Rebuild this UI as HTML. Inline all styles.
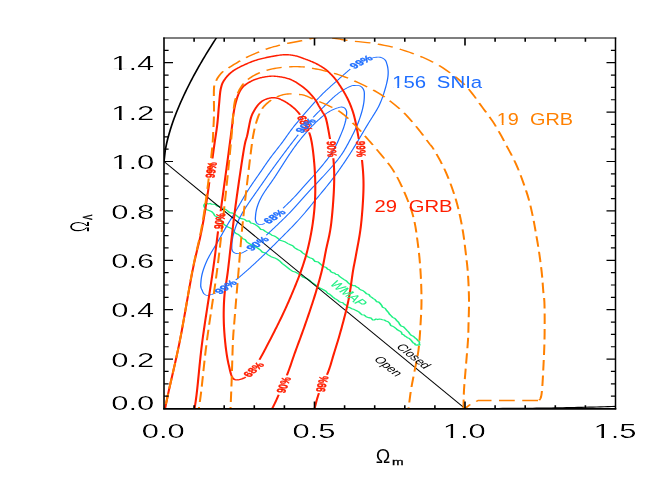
<!DOCTYPE html>
<html><head><meta charset="utf-8"><title>Omega_m - Omega_Lambda confidence contours</title>
<style>
html,body{margin:0;padding:0;background:#fff;}
body{width:664px;height:485px;overflow:hidden;font-family:"Liberation Sans",sans-serif;}
svg{display:block;}
</style></head><body>
<svg width="664" height="485" viewBox="0 0 664 485">
<rect width="100%" height="100%" fill="#fff"/>
<defs>
<filter id="th" x="-5%" y="-20%" width="110%" height="140%"><feOffset in="SourceGraphic" dx="0.4" dy="0" result="o"/><feComposite in="SourceGraphic" in2="o" operator="in"/></filter>
<filter id="th2" x="-5%" y="-20%" width="110%" height="140%"><feOffset in="SourceGraphic" dx="0.35" dy="0" result="o"/><feComposite in="SourceGraphic" in2="o" operator="in"/></filter>
<filter id="tv" x="-20%" y="-5%" width="140%" height="110%"><feOffset in="SourceGraphic" dx="0" dy="0.3" result="o"/><feComposite in="SourceGraphic" in2="o" operator="in"/></filter>
<filter id="gs" x="-20%" y="-20%" width="140%" height="140%"><feOffset in="SourceGraphic" dx="0" dy="0"/></filter>
<clipPath id="cp"><rect x="109.33" y="38.00" width="301.00" height="370.50"/></clipPath>
</defs>
<g transform="scale(1.5 1)">
<g clip-path="url(#cp)" fill="none" stroke-linecap="butt" stroke-linejoin="round">
<path d="M136.55,203.82 L137.48,203.14 L138.74,203.97 L140.05,203.41 L141.08,204.23 L142.20,204.30 L143.48,204.42 L144.60,205.86 L146.15,206.35 L147.36,207.92 L148.89,208.41 L150.32,209.41 L151.70,210.91 L153.14,212.67 L155.14,213.18 L156.79,214.66 L158.30,216.46 L159.86,218.15 L161.64,218.85 L163.21,219.58 L164.43,221.18 L166.19,220.93 L167.19,223.03 L168.78,223.52 L170.18,224.58 L171.52,225.87 L172.74,227.46 L173.85,229.38 L175.56,229.79 L176.84,231.42 L178.27,232.67 L179.85,233.66 L181.22,235.24 L182.88,235.98 L184.19,237.18 L185.38,238.49 L186.59,240.23 L188.40,241.06 L190.29,242.06 L191.97,243.61 L193.60,244.68 L195.18,245.80 L196.52,247.85 L198.31,249.49 L200.38,250.89 L201.96,253.09 L203.57,254.59 L204.90,256.44 L206.55,257.77 L208.50,258.86 L209.96,261.35 L212.20,262.05 L213.89,264.28 L215.57,266.59 L217.52,267.60 L218.60,269.35 L219.87,269.97 L220.59,271.71 L221.66,272.61 L222.81,272.99 L223.82,274.20 L225.37,274.80 L226.51,276.71 L227.95,278.11 L229.43,279.63 L231.00,281.05 L232.15,282.89 L233.17,284.16 L234.35,284.60 L235.27,285.71 L236.66,285.60 L237.74,287.03 L238.94,287.68 L239.75,289.09 L240.78,290.09 L242.12,290.76 L243.26,292.17 L244.38,293.84 L245.95,294.48 L246.72,296.31 L247.85,297.36 L248.88,298.57 L250.08,299.64 L251.00,301.60 L252.55,302.09 L253.52,303.64 L254.38,305.28 L255.09,307.36 L256.81,308.38 L257.84,310.65 L258.97,312.55 L259.77,314.42 L260.76,315.78 L261.76,317.36 L263.34,318.58 L264.53,320.62 L265.76,322.36 L266.44,324.42 L267.34,325.92 L268.90,326.65 L270.10,328.51 L271.36,330.51 L272.51,332.24 L273.21,333.83 L273.86,335.05 L274.81,335.74 L275.82,336.42 L276.52,337.80 L277.40,338.60 L278.08,339.59 L278.55,340.71 L279.19,341.15 L279.59,342.01 L279.58,343.09 L279.50,343.97 L279.92,344.94 L279.04,344.81 L278.93,345.12 L278.65,344.99 L278.22,344.90 L277.62,345.14 L277.26,344.85 L276.72,344.81 L276.59,343.62 L275.53,343.04 L274.77,341.64 L274.14,340.28 L273.46,339.41 L272.93,338.43 L272.10,338.02 L271.36,337.44 L270.66,336.65 L269.80,335.97 L269.09,334.78 L268.01,334.17 L267.56,332.10 L266.34,330.94 L264.92,329.81 L263.86,328.28 L262.82,327.11 L261.71,326.18 L260.46,325.43 L259.76,323.30 L258.73,321.70 L257.32,321.04 L256.22,320.03 L254.97,319.76 L253.96,319.30 L252.91,319.05 L251.82,319.57 L250.65,319.04 L249.58,319.95 L248.45,319.93 L247.49,318.16 L245.85,317.64 L244.04,316.70 L242.68,314.95 L241.22,314.74 L240.25,313.36 L239.21,311.91 L237.77,310.81 L236.21,309.58 L234.56,308.79 L233.23,307.61 L231.80,306.92 L230.80,305.17 L229.52,304.28 L228.57,302.76 L227.26,302.21 L226.13,301.66 L225.22,300.35 L224.23,299.41 L223.09,298.45 L221.96,297.14 L220.87,295.67 L219.79,294.25 L218.42,293.18 L217.34,291.23 L215.63,289.70 L213.62,288.31 L211.76,286.56 L210.16,284.59 L208.43,282.98 L206.76,280.77 L204.69,278.61 L202.12,277.34 L200.20,274.97 L198.44,273.39 L196.83,272.03 L194.93,271.15 L193.17,269.38 L191.51,267.28 L189.83,265.34 L188.23,263.60 L186.83,261.48 L185.19,259.51 L183.10,257.91 L180.74,256.69 L178.74,254.81 L176.96,252.96 L174.87,252.12 L173.41,249.81 L171.71,248.00 L169.86,246.71 L168.13,245.21 L166.38,243.75 L164.68,242.18 L163.50,239.68 L161.65,238.49 L160.31,236.31 L158.94,234.49 L157.35,233.46 L156.22,231.81 L155.26,229.51 L153.55,228.00 L151.53,226.84 L149.78,224.90 L148.09,222.58 L146.88,219.37 L145.19,217.18 L143.26,215.86 L142.23,213.28 L140.92,211.45 L139.34,210.53 L137.87,209.84 L137.04,208.46 L136.17,207.05 L135.93,205.15Z" stroke="#1ef082" stroke-width="1.15" stroke-linejoin="round"/>
<path d="M143.81,292.98 L143.00,293.45 L142.19,293.89 L141.37,294.27 L140.55,294.61 L139.72,294.97 L138.88,295.27 L138.09,295.33 L137.33,295.04 L136.60,294.51 L135.98,293.78 L135.52,292.81 L135.16,291.64 L134.83,290.45 L134.46,289.30 L134.11,288.13 L133.88,286.91 L133.81,285.64 L133.84,284.32 L133.90,283.00 L133.96,281.69 L134.04,280.38 L134.14,279.07 L134.27,277.77 L134.41,276.47 L134.59,275.17 L134.78,273.88 L135.00,272.60 L135.23,271.32 L135.49,270.05 L135.77,268.79 L136.06,267.54 L136.37,266.29 L136.69,265.05 L137.03,263.82 L137.38,262.60 L137.74,261.39 L138.12,260.19 L138.51,258.99 L138.91,257.80 L139.32,256.62 L139.75,255.45 L140.18,254.28 L140.62,253.13 L141.06,251.97 L141.52,250.83 L141.97,249.68 L142.43,248.54 L142.90,247.40 L143.36,246.26 L143.82,245.12 L144.28,243.98 L144.74,242.84 L145.19,241.69 L145.64,240.53 L146.08,239.38 L146.53,238.22 L146.96,237.06 L147.40,235.90 L147.84,234.73 L148.27,233.57 L148.71,232.41 L149.14,231.24 L149.58,230.08 L150.03,228.92 L150.47,227.77 L150.92,226.61 L151.37,225.46 L151.83,224.32 L152.28,223.17 L152.74,222.03 L153.21,220.89 L153.67,219.75 L154.13,218.61 L154.60,217.47 L155.06,216.33 L155.52,215.19 L155.98,214.05 L156.44,212.90 L156.90,211.76 L157.36,210.61 L157.81,209.46 L158.26,208.31 L158.71,207.16 L159.15,206.00 L159.60,204.85 L160.04,203.69 L160.49,202.53 L160.93,201.38 L161.38,200.22 L161.83,199.07 L162.27,197.91 L162.72,196.76 L163.18,195.61 L163.63,194.47 L164.09,193.32 L164.56,192.19 L165.03,191.05 L165.50,189.93 L165.98,188.80 L166.47,187.68 L166.96,186.57 L167.45,185.46 L167.95,184.36 L168.46,183.26 L168.96,182.16 L169.47,181.07 L169.98,179.97 L170.49,178.88 L171.00,177.78 L171.51,176.69 L172.02,175.59 L172.53,174.50 L173.03,173.40 L173.54,172.30 L174.04,171.20 L174.55,170.10 L175.05,169.00 L175.55,167.89 L176.05,166.79 L176.55,165.69 L177.05,164.59 L177.56,163.49 L178.06,162.39 L178.57,161.30 L179.09,160.21 L179.61,159.12 L180.13,158.05 L180.66,156.97 L181.19,155.91 L181.73,154.84 L182.27,153.78 L182.82,152.73 L183.37,151.68 L183.92,150.63 L184.47,149.58 L185.02,148.53 L185.57,147.48 L186.11,146.43 L186.66,145.38 L187.20,144.32 L187.74,143.25 L188.27,142.19 L188.80,141.11 L189.32,140.04 L189.84,138.95 L190.36,137.87 L190.87,136.78 L191.38,135.69 L191.89,134.60 L192.41,133.51 L192.92,132.43 L193.45,131.35 L193.97,130.28 L194.51,129.22 L195.05,128.16 L195.59,127.11 L196.14,126.06 L196.70,125.02 L197.26,123.99 L197.83,122.96 L198.39,121.93 L198.97,120.91 L199.54,119.89 L200.12,118.87 L200.69,117.85 L201.27,116.83 L201.85,115.82 L202.43,114.81 L203.01,113.80 L203.59,112.79 L204.18,111.78 L204.76,110.77 L205.34,109.76 L205.93,108.76 L206.52,107.75 L207.10,106.75 L207.69,105.75 L208.29,104.75 L208.88,103.76 L209.47,102.76 L210.07,101.77 L210.67,100.79 L211.27,99.81 L211.88,98.83 L212.49,97.86 L213.11,96.89 L213.72,95.94 L214.35,94.98 L214.98,94.04 L215.61,93.10 L216.25,92.17 L216.89,91.25 L217.54,90.34 L218.19,89.43 L218.84,88.53 L219.50,87.63 L220.16,86.73 L220.83,85.85 L221.49,84.96 L222.16,84.07 L222.83,83.19 L223.49,82.30 L224.16,81.42 L224.82,80.53 L225.49,79.64 L226.15,78.75 L226.81,77.86 L227.48,76.97 L228.14,76.08 L228.80,75.19 L229.47,74.30 L230.13,73.42 L230.80,72.53 L231.47,71.66 L232.15,70.79 L232.83,69.93 L233.51,69.09" stroke="#1e6eff" stroke-width="0.85"/>
<path d="M248.24,57.84 L249.11,57.61 L249.97,57.42 L250.84,57.23 L251.71,57.07 L252.57,57.06 L253.42,57.25 L254.25,57.59 L255.03,58.07 L255.76,58.72 L256.43,59.51 L256.99,60.43 L257.38,61.51 L257.66,62.72 L257.91,63.96 L258.15,65.18 L258.35,66.42 L258.52,67.67 L258.64,68.94 L258.73,70.22 L258.78,71.51 L258.79,72.81 L258.76,74.11 L258.70,75.42 L258.61,76.72 L258.49,78.03 L258.35,79.33 L258.18,80.63 L258.00,81.93 L257.80,83.22 L257.59,84.52 L257.37,85.80 L257.13,87.09 L256.89,88.37 L256.64,89.65 L256.39,90.93 L256.13,92.20 L255.86,93.48 L255.58,94.74 L255.30,96.01 L255.01,97.27 L254.71,98.52 L254.39,99.76 L254.07,101.00 L253.73,102.22 L253.38,103.44 L253.01,104.64 L252.62,105.84 L252.22,107.02 L251.80,108.19 L251.37,109.35 L250.93,110.50 L250.48,111.65 L250.01,112.78 L249.55,113.92 L249.07,115.04 L248.60,116.17 L248.12,117.30 L247.64,118.42 L247.17,119.55 L246.69,120.68 L246.22,121.81 L245.75,122.95 L245.29,124.09 L244.83,125.23 L244.37,126.37 L243.91,127.52 L243.46,128.67 L243.00,129.82 L242.55,130.96 L242.10,132.12 L241.65,133.27 L241.20,134.42 L240.74,135.57 L240.29,136.71 L239.84,137.86 L239.38,139.01 L238.92,140.16 L238.47,141.30 L238.01,142.45 L237.55,143.59 L237.09,144.73 L236.63,145.87 L236.16,147.01 L235.70,148.15 L235.23,149.29 L234.76,150.42 L234.29,151.55 L233.81,152.68 L233.34,153.81 L232.86,154.94 L232.37,156.06 L231.89,157.18 L231.40,158.29 L230.91,159.41 L230.42,160.52 L229.92,161.63 L229.43,162.73 L228.92,163.84 L228.42,164.94 L227.92,166.04 L227.41,167.14 L226.90,168.23 L226.39,169.33 L225.88,170.42 L225.36,171.50 L224.84,172.59 L224.32,173.67 L223.79,174.75 L223.26,175.82 L222.73,176.89 L222.20,177.96 L221.66,179.02 L221.12,180.08 L220.58,181.14 L220.03,182.19 L219.48,183.24 L218.93,184.29 L218.37,185.33 L217.81,186.37 L217.25,187.41 L216.69,188.45 L216.13,189.48 L215.56,190.51 L215.00,191.54 L214.43,192.57 L213.86,193.59 L213.29,194.62 L212.72,195.64 L212.15,196.67 L211.58,197.69 L211.00,198.72 L210.43,199.74 L209.87,200.77 L209.30,201.80 L208.73,202.83 L208.16,203.86 L207.60,204.89 L207.04,205.92 L206.47,206.95 L205.91,207.99 L205.34,209.02 L204.78,210.05 L204.21,211.07 L203.64,212.10 L203.06,213.12 L202.48,214.13 L201.90,215.14 L201.32,216.15 L200.73,217.15 L200.14,218.15 L199.54,219.14 L198.94,220.13 L198.34,221.11 L197.74,222.09 L197.13,223.06 L196.52,224.03 L195.91,225.00 L195.29,225.97 L194.67,226.93 L194.05,227.89 L193.43,228.84 L192.81,229.79 L192.18,230.74 L191.55,231.69 L190.93,232.64 L190.30,233.58 L189.67,234.53 L189.04,235.47 L188.41,236.41 L187.78,237.36 L187.15,238.30 L186.52,239.24 L185.89,240.19 L185.26,241.13 L184.63,242.07 L184.00,243.01 L183.37,243.96 L182.73,244.90 L182.10,245.84 L181.47,246.78 L180.83,247.71 L180.20,248.65 L179.56,249.58 L178.93,250.51 L178.29,251.44 L177.65,252.37 L177.01,253.30 L176.36,254.22 L175.72,255.15 L175.08,256.07 L174.43,256.99 L173.79,257.91 L173.14,258.83 L172.49,259.74 L171.84,260.65 L171.19,261.57 L170.54,262.48 L169.89,263.39 L169.24,264.29 L168.58,265.19 L167.92,266.10 L167.27,267.00 L166.61,267.89 L165.94,268.78 L165.28,269.68 L164.62,270.56 L163.95,271.45 L163.28,272.33 L162.61,273.21 L161.94,274.08 L161.26,274.95 L160.59,275.82 L159.91,276.68 L159.23,277.54 L158.54,278.39 L157.85,279.24 L157.16,280.08" stroke="#1e6eff" stroke-width="0.85"/>
<path d="M164.91,250.10 L164.14,250.76 L163.36,251.40 L162.58,252.04 L161.79,252.66 L160.99,253.15 L160.15,253.47 L159.29,253.66 L158.45,253.68 L157.62,253.53 L156.81,253.21 L156.10,252.69 L155.51,251.94 L155.02,250.99 L154.67,249.93 L154.53,248.74 L154.52,247.44 L154.55,246.12 L154.57,244.83 L154.61,243.52 L154.68,242.22 L154.78,240.91 L154.90,239.59 L155.05,238.29 L155.21,236.98 L155.40,235.68 L155.61,234.38 L155.83,233.08 L156.07,231.80 L156.33,230.51 L156.60,229.24 L156.88,227.97 L157.19,226.71 L157.50,225.46 L157.83,224.22 L158.18,222.99 L158.54,221.76 L158.91,220.54 L159.30,219.34 L159.69,218.14 L160.11,216.95 L160.53,215.77 L160.96,214.60 L161.40,213.43 L161.85,212.27 L162.31,211.12 L162.78,209.97 L163.25,208.83 L163.73,207.70 L164.21,206.57 L164.70,205.44 L165.19,204.32 L165.69,203.20 L166.19,202.09 L166.70,200.98 L167.20,199.88 L167.72,198.77 L168.23,197.67 L168.74,196.57 L169.26,195.47 L169.78,194.37 L170.29,193.28 L170.81,192.18 L171.32,191.08 L171.84,189.98 L172.36,188.88 L172.87,187.78 L173.38,186.68 L173.89,185.58 L174.41,184.47 L174.92,183.37 L175.43,182.27 L175.94,181.16 L176.45,180.06 L176.96,178.96 L177.47,177.86 L177.99,176.75 L178.50,175.65 L179.02,174.55 L179.53,173.46 L180.05,172.36 L180.57,171.27 L181.09,170.17 L181.62,169.08 L182.14,167.99 L182.66,166.90 L183.19,165.82 L183.72,164.73 L184.25,163.65 L184.78,162.56 L185.31,161.48 L185.84,160.40 L186.37,159.32 L186.90,158.24 L187.44,157.16 L187.97,156.08 L188.51,155.00 L189.04,153.93 L189.58,152.85 L190.12,151.77 L190.66,150.70 L191.20,149.63 L191.74,148.55 L192.28,147.48 L192.82,146.41 L193.36,145.34 L193.90,144.27 L194.45,143.20 L194.99,142.14 L195.54,141.07 L196.08,140.01 L196.63,138.95 L197.18,137.88 L197.73,136.83 L198.29,135.77 L198.84,134.71" stroke="#1e6eff" stroke-width="0.85"/>
<path d="M208.73,117.37 L209.35,116.40 L209.98,115.43 L210.60,114.48 L211.23,113.52 L211.87,112.58 L212.50,111.63 L213.14,110.69 L213.78,109.75 L214.42,108.81 L215.06,107.87 L215.70,106.93 L216.34,105.98 L216.97,105.04 L217.61,104.10 L218.25,103.16 L218.89,102.22 L219.53,101.28 L220.17,100.35 L220.82,99.43 L221.48,98.52 L222.14,97.62 L222.81,96.73 L223.48,95.85 L224.17,95.00 L224.86,94.16 L225.57,93.34 L226.28,92.55 L227.01,91.78 L227.74,91.03 L228.49,90.31 L229.25,89.62 L230.02,88.96 L230.79,88.33 L231.58,87.73 L232.38,87.16 L233.18,86.58 L233.98,86.04 L234.80,85.65 L235.65,85.52 L236.52,85.54 L237.38,85.61 L238.25,85.61 L239.12,85.65 L239.91,85.91 L240.63,86.47 L241.27,87.25 L241.81,88.16 L242.24,89.22 L242.57,90.41 L242.80,91.65 L242.90,92.93 L242.90,94.26 L242.89,95.59 L242.87,96.90 L242.83,98.23 L242.77,99.55 L242.69,100.87 L242.58,102.19 L242.45,103.50 L242.30,104.82 L242.12,106.13 L241.94,107.43 L241.74,108.74 L241.52,110.03 L241.29,111.33 L241.05,112.62 L240.80,113.91 L240.53,115.19 L240.26,116.47 L239.98,117.74 L239.69,119.01 L239.39,120.27 L239.08,121.53 L238.76,122.78 L238.43,124.03 L238.09,125.27 L237.74,126.50 L237.38,127.73 L237.01,128.95 L236.63,130.17 L236.24,131.38 L235.85,132.58 L235.45,133.79 L235.05,134.99 L234.65,136.18 L234.24,137.38 L233.82,138.57 L233.41,139.76 L232.99,140.95 L232.57,142.14 L232.15,143.32 L231.72,144.50 L231.29,145.68 L230.86,146.85 L230.42,148.02 L229.97,149.18 L229.51,150.33 L229.05,151.48 L228.57,152.61 L228.08,153.73 L227.58,154.84 L227.07,155.93 L226.55,157.02 L226.02,158.09 L225.48,159.16 L224.92,160.21 L224.36,161.25 L223.79,162.29 L223.22,163.32 L222.64,164.34 L222.06,165.36 L221.47,166.37 L220.88,167.38 L220.28,168.39 L219.69,169.39 L219.09,170.39 L218.49,171.39 L217.89,172.39 L217.29,173.39 L216.69,174.38 L216.08,175.37 L215.47,176.36 L214.86,177.34 L214.25,178.32 L213.64,179.30 L213.03,180.28 L212.41,181.26 L211.79,182.23 L211.18,183.20 L210.56,184.18 L209.94,185.15 L209.32,186.12 L208.70,187.10 L208.09,188.07 L207.47,189.05 L206.86,190.03 L206.25,191.01 L205.64,192.00 L205.04,192.99 L204.43,193.98 L203.83,194.98 L203.23,195.98 L202.64,196.98 L202.04,197.98 L201.45,198.99 L200.85,199.99 L200.26,201.00 L199.67,202.00 L199.07,203.01 L198.48,204.01 L197.88,205.02 L197.28,206.02 L196.68,207.01 L196.08,208.01 L195.47,209.00 L194.86,209.98 L194.25,210.96 L193.64,211.94 L193.02,212.91 L192.39,213.87 L191.77,214.83 L191.14,215.79 L190.51,216.74 L189.87,217.69 L189.23,218.63 L188.59,219.57 L187.95,220.50 L187.30,221.43 L186.66,222.36 L186.01,223.29 L185.36,224.22 L184.71,225.14 L184.06,226.07 L183.41,226.99 L182.76,227.91 L182.10,228.83 L181.45,229.76 L180.80,230.68 L180.15,231.60 L179.50,232.53 L178.85,233.45 L178.20,234.37 L177.55,235.29" stroke="#1e6eff" stroke-width="0.85"/>
<path d="M176.44,223.39 L175.69,223.99 L174.90,224.41 L174.09,224.67 L173.32,224.70 L172.57,224.45 L171.85,223.97 L171.26,223.28 L170.82,222.35 L170.50,221.21 L170.29,220.01 L170.22,218.77 L170.27,217.46 L170.35,216.15 L170.42,214.85 L170.52,213.55 L170.64,212.26 L170.80,210.97 L170.98,209.68 L171.19,208.41 L171.43,207.14 L171.70,205.88 L171.98,204.63 L172.30,203.40 L172.63,202.17 L172.98,200.96 L173.35,199.75 L173.75,198.56 L174.16,197.39 L174.58,196.22 L175.02,195.07 L175.48,193.93 L175.94,192.81 L176.43,191.69 L176.92,190.58 L177.42,189.48 L177.92,188.39 L178.43,187.30 L178.95,186.22 L179.46,185.14 L179.98,184.05 L180.49,182.96 L181.00,181.87 L181.51,180.77 L182.01,179.67 L182.51,178.57 L183.00,177.46 L183.49,176.34 L183.98,175.23 L184.47,174.11 L184.95,172.99 L185.43,171.86 L185.91,170.74 L186.39,169.61 L186.87,168.49 L187.35,167.36 L187.83,166.24 L188.31,165.11 L188.79,163.99 L189.27,162.86 L189.75,161.74 L190.23,160.61 L190.72,159.49 L191.20,158.37 L191.69,157.25 L192.18,156.14 L192.67,155.02 L193.17,153.91 L193.67,152.81 L194.17,151.71 L194.68,150.61 L195.19,149.52 L195.70,148.43 L196.22,147.34 L196.75,146.26 L197.27,145.19 L197.81,144.12 L198.35,143.06 L198.89,142.00 L199.44,140.95 L199.99,139.90 L200.54,138.86 L201.11,137.82 L201.67,136.79 L202.24,135.77 L202.82,134.75 L203.40,133.74 L203.99,132.74 L204.58,131.74 L205.17,130.75 L205.77,129.76 L206.38,128.78 L206.99,127.81 L207.60,126.84 L208.22,125.88 L208.84,124.93 L209.47,123.98 L210.10,123.04 L210.74,122.11 L211.38,121.19 L212.03,120.28 L212.69,119.38 L213.35,118.50 L214.02,117.62 L214.70,116.77 L215.39,115.93 L216.09,115.11 L216.80,114.32 L217.51,113.55 L218.24,112.81 L218.99,112.10 L219.74,111.42 L220.50,110.78 L221.28,110.18 L222.07,109.62 L222.86,109.10 L223.67,108.64 L224.48,108.21 L225.30,107.84 L226.13,107.46 L226.96,107.12 L227.76,107.02 L228.54,107.23 L229.29,107.67 L229.92,108.32 L230.42,109.19 L230.80,110.27 L231.05,111.43 L231.12,112.65 L231.06,113.95 L230.97,115.26 L230.88,116.54 L230.77,117.83 L230.62,119.12 L230.46,120.41 L230.26,121.69 L230.04,122.97 L229.80,124.24 L229.54,125.51 L229.27,126.77 L228.98,128.03 L228.67,129.28 L228.36,130.52 L228.04,131.76 L227.70,133.00 L227.36,134.24 L227.02,135.47 L226.67,136.69 L226.32,137.92 L225.96,139.14 L225.60,140.36 L225.23,141.58 L224.86,142.79 L224.49,144.00 L224.10,145.20 L223.71,146.39 L223.31,147.57 L222.89,148.74 L222.46,149.90 L222.02,151.04 L221.56,152.17 L221.08,153.29 L220.59,154.39 L220.09,155.48 L219.57,156.56 L219.04,157.62 L218.51,158.68 L217.96,159.74 L217.41,160.78 L216.85,161.82 L216.30,162.86 L215.73,163.90 L215.17,164.93 L214.60,165.96 L214.03,166.99 L213.46,168.01 L212.89,169.03 L212.32,170.05 L211.74,171.07 L211.16,172.09 L210.58,173.10 L209.99,174.10 L209.40,175.10 L208.81,176.10 L208.22,177.10 L207.62,178.09 L207.03,179.08 L206.43,180.07 L205.83,181.06 L205.23,182.04 L204.63,183.03 L204.03,184.02 L203.43,185.00 L202.83,185.99 L202.24,186.98 L201.64,187.98 L201.05,188.97 L200.47,189.97 L199.88,190.96 L199.29,191.96 L198.70,192.95 L198.11,193.95 L197.52,194.93 L196.92,195.91 L196.31,196.89 L195.71,197.86 L195.09,198.82 L194.47,199.77 L193.85,200.72 L193.22,201.66 L192.58,202.59 L191.95,203.53 L191.31,204.46 L190.67,205.38 L190.02,206.31 L189.38,207.23 L188.73,208.15" stroke="#1e6eff" stroke-width="0.85"/>
<path d="M109.33,161.50 L110.17,150.26 L111.01,143.93 L111.84,138.69 L112.68,134.07 L113.51,129.85 L114.35,125.93 L115.19,122.24 L116.02,118.74 L116.86,115.39 L117.69,112.18 L118.53,109.08 L119.37,106.07 L120.20,103.16 L121.04,100.32 L121.88,97.56 L122.71,94.86 L123.55,92.22 L124.38,89.63 L125.22,87.09 L126.06,84.60 L126.89,82.16 L127.73,79.75 L128.56,77.38 L129.40,75.05 L130.24,72.75 L131.07,70.48 L131.91,68.25 L132.74,66.04 L133.58,63.85 L134.42,61.70 L135.25,59.57 L136.09,57.46 L136.92,55.37 L137.76,53.31 L138.60,51.26 L139.43,49.24 L140.27,47.23 L141.11,45.24 L141.94,43.27 L142.78,41.32 L143.61,39.38 L144.45,37.46 L145.29,35.56 L146.12,33.67 L146.96,31.79 L147.79,29.93 L148.63,28.08 L149.47,26.24 L150.30,24.42" stroke="#000" stroke-width="1.15"/>
<path d="M310.00,408.50 L312.51,408.50 L315.02,408.50 L317.53,408.50 L320.03,408.50 L322.54,408.49 L325.05,408.49 L327.56,408.48 L330.07,408.47 L332.57,408.46 L335.08,408.44 L337.59,408.43 L340.10,408.41 L342.61,408.38 L345.12,408.36 L347.62,408.33 L350.13,408.29 L352.64,408.26 L355.15,408.22 L357.66,408.17 L360.17,408.13 L362.68,408.08 L365.18,408.02 L367.69,407.96 L370.20,407.90 L372.71,407.83 L375.22,407.76 L377.72,407.69 L380.23,407.61 L382.74,407.53 L385.25,407.44 L387.76,407.35 L390.27,407.26 L392.78,407.16 L395.28,407.06 L397.79,406.95 L400.30,406.84 L402.81,406.73 L405.32,406.61 L407.82,406.49 L410.33,406.36" stroke="#000" stroke-width="1.15"/>
<path d="M109.33,161.50 L310.00,408.50" stroke="#000" stroke-width="0.8"/>
<path d="M110.00,409.00 L110.09,408.35 L110.18,407.66 L110.28,406.93 L110.39,406.13 L110.50,405.25 L110.63,404.28 L110.78,403.19 L110.95,401.97 L111.14,400.60 L111.35,399.07 L111.59,397.36 L111.86,395.46 L112.16,393.34 L112.50,391.00 L112.88,388.42 L113.30,385.60 L113.76,382.58 L114.25,379.36 L114.78,375.96 L115.32,372.40 L115.89,368.69 L116.47,364.85 L117.05,360.90 L117.65,356.85 L118.25,352.71 L118.84,348.52 L119.43,344.28 L120.00,340.00 L120.58,335.56 L121.17,330.83 L121.77,325.88 L122.39,320.75 L123.01,315.50 L123.64,310.17 L124.26,304.81 L124.88,299.49 L125.50,294.24 L126.10,289.13 L126.69,284.19 L127.26,279.49 L127.81,275.08 L128.33,271.00 L128.84,267.24 L129.33,263.73 L129.81,260.44 L130.28,257.34 L130.73,254.41 L131.17,251.62 L131.60,248.94 L132.02,246.34 L132.43,243.80 L132.83,241.29 L133.22,238.78 L133.60,236.25 L133.97,233.67 L134.33,231.00 L134.68,228.33 L135.01,225.73 L135.32,223.18 L135.62,220.69 L135.91,218.22 L136.18,215.76 L136.45,213.31 L136.72,210.85 L136.98,208.36 L137.24,205.83 L137.51,203.24 L137.78,200.58 L138.05,197.84 L138.33,195.00 L138.63,192.02 L138.93,188.87 L139.23,185.59 L139.54,182.22" stroke="#ff1e00" stroke-width="1.4"/>
<path d="M141.64,158.48 L141.91,155.46 L142.16,152.62 L142.40,150.00 L142.63,147.59 L142.84,145.34 L143.05,143.23 L143.24,141.25 L143.43,139.39 L143.61,137.62 L143.78,135.94 L143.94,134.31 L144.10,132.74 L144.25,131.20 L144.40,129.67 L144.53,128.13 L144.67,126.58 L144.80,125.00 L144.92,123.41 L145.03,121.85 L145.14,120.32 L145.23,118.81 L145.32,117.34 L145.40,115.88 L145.47,114.46 L145.55,113.05 L145.62,111.66 L145.69,110.30 L145.76,108.95 L145.84,107.62 L145.92,106.30 L146.00,105.00 L146.08,103.70 L146.16,102.41 L146.23,101.13 L146.30,99.86 L146.37,98.61 L146.44,97.38 L146.52,96.17 L146.59,94.99 L146.67,93.84 L146.76,92.72 L146.85,91.65 L146.96,90.62 L147.07,89.63 L147.20,88.70 L147.33,87.83 L147.46,87.02 L147.59,86.27 L147.73,85.57 L147.86,84.91 L148.01,84.29 L148.17,83.69 L148.34,83.12 L148.52,82.55 L148.72,81.98 L148.94,81.41 L149.18,80.83 L149.44,80.23 L149.73,79.60 L150.04,78.95 L150.36,78.30 L150.70,77.65 L151.05,77.00 L151.41,76.35 L151.80,75.70 L152.20,75.05 L152.63,74.40 L153.07,73.76 L153.55,73.12 L154.05,72.48 L154.58,71.85 L155.14,71.22 L155.73,70.60 L156.37,69.98 L157.06,69.34 L157.79,68.71 L158.56,68.07 L159.36,67.43 L160.18,66.79 L161.02,66.17 L161.87,65.55 L162.72,64.96 L163.57,64.37 L164.41,63.81 L165.23,63.28 L166.03,62.77 L166.80,62.30 L167.54,61.86 L168.27,61.44 L168.98,61.06 L169.67,60.69 L170.37,60.35 L171.05,60.03 L171.74,59.72 L172.43,59.42 L173.12,59.14 L173.82,58.87 L174.54,58.60 L175.27,58.33 L176.02,58.07 L176.80,57.80 L177.61,57.53 L178.45,57.26 L179.32,56.99 L180.21,56.72 L181.12,56.45 L182.04,56.20 L182.95,55.96 L183.87,55.73 L184.77,55.51 L185.65,55.32 L186.51,55.15 L187.33,55.01 L188.12,54.89 L188.87,54.80 L189.57,54.74 L190.24,54.71 L190.89,54.71 L191.51,54.73 L192.11,54.77 L192.69,54.83 L193.25,54.91 L193.80,55.01 L194.34,55.12 L194.87,55.24 L195.39,55.37 L195.90,55.51 L196.42,55.65 L196.93,55.80 L197.45,55.96 L197.96,56.15 L198.46,56.36 L198.95,56.58 L199.44,56.82 L199.92,57.06 L200.39,57.32 L200.85,57.58 L201.29,57.83 L201.73,58.09 L202.15,58.33 L202.56,58.57 L202.95,58.79 L203.33,59.00 L203.69,59.19 L204.02,59.37 L204.33,59.53 L204.63,59.69 L204.91,59.84 L205.17,59.99 L205.43,60.14 L205.69,60.28 L205.94,60.43 L206.20,60.59 L206.47,60.75 L206.74,60.92 L207.03,61.10 L207.33,61.30 L207.65,61.50 L207.97,61.71 L208.30,61.92 L208.63,62.14 L208.96,62.36 L209.30,62.58 L209.65,62.81 L209.99,63.05 L210.34,63.30 L210.69,63.56 L211.05,63.83 L211.41,64.10 L211.77,64.40 L212.13,64.70 L212.50,65.01 L212.87,65.33 L213.25,65.66 L213.63,65.99 L214.01,66.34 L214.40,66.69 L214.79,67.06 L215.18,67.43 L215.58,67.82 L215.97,68.23 L216.36,68.64 L216.75,69.08 L217.14,69.53 L217.53,70.00 L217.92,70.49 L218.32,71.00 L218.72,71.52 L219.12,72.07 L219.52,72.62 L219.92,73.20 L220.32,73.78 L220.72,74.38 L221.11,74.98 L221.50,75.59 L221.89,76.21 L222.27,76.84 L222.64,77.47 L223.00,78.10 L223.35,78.74 L223.70,79.39 L224.05,80.06 L224.39,80.74 L224.72,81.42 L225.05,82.11 L225.38,82.81 L225.70,83.51 L226.02,84.22 L226.33,84.92 L226.64,85.62 L226.94,86.32 L227.24,87.01 L227.53,87.70 L227.82,88.38 L228.11,89.07 L228.39,89.75 L228.67,90.44 L228.95,91.13 L229.22,91.82 L229.48,92.50 L229.74,93.18 L230.00,93.86 L230.25,94.54 L230.50,95.21 L230.74,95.88 L230.97,96.54 L231.20,97.20 L231.42,97.84 L231.64,98.47 L231.84,99.08 L232.04,99.69 L232.23,100.28 L232.42,100.88 L232.61,101.48 L232.79,102.08 L232.97,102.69 L233.15,103.31 L233.33,103.95 L233.50,104.61 L233.68,105.29 L233.87,106.00 L234.05,106.72 L234.23,107.43 L234.40,108.13 L234.58,108.84 L234.75,109.56 L234.93,110.29 L235.10,111.05 L235.27,111.83 L235.45,112.65 L235.62,113.52 L235.80,114.42 L235.97,115.39 L236.15,116.41 L236.33,117.50 L236.52,118.66 L236.71,119.89 L236.90,121.18 L237.09,122.52 L237.28,123.91 L237.48,125.35 L237.67,126.81 L237.87,128.31 L238.06,129.82 L238.26,131.36 L238.45,132.90 L238.63,134.44 L238.82,135.97 L239.00,137.50 L239.18,139.02" stroke="#ff1e00" stroke-width="1.4"/>
<path d="M241.33,160.00 L241.45,161.79 L241.57,163.58 L241.68,165.38 L241.79,167.20 L241.90,169.04 L242.00,170.91 L242.08,172.81 L242.16,174.75 L242.23,176.74 L242.28,178.77 L242.32,180.86 L242.34,183.00 L242.35,185.22 L242.33,187.50 L242.30,189.89 L242.25,192.40 L242.18,195.01 L242.10,197.70 L242.00,200.46 L241.89,203.27 L241.77,206.09 L241.64,208.93 L241.49,211.75 L241.34,214.54 L241.18,217.28 L241.02,219.95 L240.84,222.53 L240.67,225.00 L240.48,227.41 L240.27,229.80 L240.04,232.18 L239.80,234.53 L239.54,236.84 L239.28,239.12 L239.02,241.34 L238.76,243.52 L238.49,245.63 L238.24,247.67 L237.99,249.63 L237.75,251.51 L237.53,253.31 L237.33,255.00 L237.15,256.54 L236.99,257.91 L236.83,259.12 L236.69,260.21 L236.56,261.21 L236.44,262.15 L236.31,263.06 L236.19,263.97 L236.07,264.90 L235.94,265.89 L235.80,266.96 L235.66,268.15 L235.50,269.49 L235.33,271.00 L235.15,272.67 L234.97,274.45 L234.79,276.34 L234.61,278.31 L234.42,280.36 L234.22,282.47 L234.02,284.62 L233.81,286.82 L233.59,289.04 L233.37,291.26 L233.13,293.49 L232.88,295.69 L232.61,297.87 L232.33,300.00 L232.04,302.12 L231.72,304.28 L231.39,306.45 L231.05,308.64 L230.70,310.85 L230.33,313.05 L229.96,315.25 L229.58,317.44 L229.20,319.61 L228.82,321.76 L228.44,323.88 L228.07,325.97 L227.70,328.01 L227.33,330.00 L226.97,331.96 L226.60,333.91 L226.23,335.85 L225.86,337.77 L225.48,339.67 L225.10,341.54 L224.73,343.38 L224.36,345.18 L224.00,346.94 L223.64,348.66 L223.29,350.33 L222.96,351.94 L222.64,353.50 L222.33,355.00 L222.05,356.42 L221.78,357.75 L221.54,359.01 L221.31,360.20 L221.09,361.34 L220.88,362.43 L220.67,363.50 L220.46,364.55 L220.25,365.58 L220.03,366.62 L219.79,367.67 L219.55,368.74 L219.29,369.85 L219.00,371.00 L218.69,372.20 L218.35,373.44 L217.99,374.71" stroke="#ff1e00" stroke-width="1.4"/>
<path d="M212.65,393.09 L212.50,393.68 L212.37,394.27 L212.23,394.86 L212.10,395.47 L211.96,396.10 L211.82,396.78 L211.67,397.50 L211.51,398.29 L211.35,399.14 L211.18,400.04 L211.01,400.98 L210.85,401.93 L210.68,402.89 L210.52,403.84 L210.37,404.77 L210.22,405.66 L210.08,406.49 L209.96,407.26 L209.84,407.94 L209.75,408.53 L209.67,409.00" stroke="#ff1e00" stroke-width="1.4"/>
<path d="M129.67,409.00 L129.73,408.35 L129.80,407.66 L129.88,406.93 L129.96,406.13 L130.06,405.25 L130.16,404.28 L130.27,403.19 L130.39,401.97 L130.52,400.60 L130.66,399.07 L130.81,397.36 L130.98,395.46 L131.15,393.34 L131.33,391.00 L131.53,388.42 L131.72,385.61 L131.93,382.60 L132.14,379.39 L132.36,376.00 L132.59,372.45 L132.83,368.75 L133.09,364.92 L133.36,360.97 L133.65,356.92 L133.96,352.78 L134.28,348.57 L134.63,344.31 L135.00,340.00 L135.40,335.54 L135.85,330.82 L136.33,325.90 L136.83,320.80 L137.36,315.58 L137.91,310.28 L138.46,304.94 L139.01,299.60 L139.56,294.30 L140.10,289.10 L140.62,284.02 L141.11,279.12 L141.57,274.43 L142.00,270.00 L142.39,265.85 L142.75,261.94 L143.08,258.23 L143.39,254.69 L143.68,251.28 L143.96,247.96 L144.24,244.69 L144.51,241.43 L144.78,238.14 L145.06,234.80 L145.35,231.35" stroke="#ff1e00" stroke-width="1.4"/>
<path d="M147.12,211.20 L147.55,206.43 L147.99,201.50 L148.45,196.46 L148.91,191.36 L149.37,186.25 L149.83,181.20 L150.28,176.25 L150.72,171.46 L151.13,166.88 L151.52,162.58 L151.88,158.60 L152.20,155.00 L152.49,151.72 L152.76,148.68 L153.01,145.84 L153.24,143.21 L153.46,140.76 L153.65,138.49 L153.84,136.38 L154.01,134.41 L154.16,132.58 L154.31,130.87 L154.44,129.28 L154.57,127.77 L154.69,126.35 L154.80,125.00 L154.90,123.81 L154.97,122.84 L155.02,122.08 L155.06,121.49 L155.08,121.04 L155.10,120.70 L155.10,120.42 L155.11,120.20 L155.11,119.99 L155.12,119.75 L155.14,119.47 L155.17,119.10 L155.21,118.62 L155.27,118.00 L155.34,117.26 L155.41,116.47 L155.50,115.63 L155.58,114.74 L155.67,113.82 L155.77,112.88 L155.87,111.91 L155.98,110.93 L156.09,109.95 L156.21,108.97 L156.33,107.99 L156.46,107.04 L156.59,106.10 L156.73,105.20 L156.88,104.31 L157.03,103.40 L157.19,102.49 L157.35,101.58 L157.52,100.67 L157.69,99.77 L157.87,98.87 L158.06,97.99 L158.24,97.12 L158.44,96.28 L158.64,95.46 L158.84,94.67 L159.05,93.92 L159.27,93.20 L159.48,92.52 L159.69,91.88 L159.90,91.27 L160.10,90.69 L160.31,90.13 L160.53,89.60 L160.75,89.08 L160.99,88.58 L161.24,88.09 L161.51,87.61 L161.80,87.13 L162.10,86.66 L162.44,86.18 L162.80,85.70 L163.19,85.21 L163.62,84.73 L164.07,84.24 L164.55,83.76 L165.04,83.28 L165.56,82.81 L166.08,82.35 L166.62,81.90 L167.16,81.47 L167.70,81.05 L168.24,80.66 L168.77,80.28 L169.29,79.93 L169.80,79.60 L170.30,79.30 L170.81,79.02 L171.32,78.76 L171.83,78.52 L172.34,78.30 L172.85,78.10 L173.36,77.91 L173.87,77.74 L174.37,77.58 L174.87,77.43 L175.36,77.28 L175.85,77.15 L176.33,77.02 L176.80,76.90 L177.26,76.78 L177.70,76.67 L178.13,76.57 L178.54,76.48 L178.96,76.40 L179.36,76.32 L179.77,76.26 L180.18,76.21 L180.60,76.18 L181.02,76.15 L181.46,76.14 L181.91,76.15 L182.38,76.17 L182.87,76.20 L183.38,76.25 L183.92,76.32 L184.49,76.40 L185.07,76.50 L185.66,76.61 L186.26,76.73 L186.87,76.87 L187.47,77.02 L188.07,77.17 L188.67,77.34 L189.25,77.52 L189.81,77.71 L190.35,77.90 L190.87,78.10 L191.36,78.31 L191.83,78.52 L192.29,78.73 L192.73,78.96 L193.16,79.19 L193.58,79.44 L194.00,79.69 L194.41,79.96 L194.82,80.24 L195.23,80.54 L195.65,80.85 L196.07,81.18 L196.49,81.53 L196.93,81.90 L197.39,82.30 L197.86,82.73 L198.34,83.19 L198.83,83.68 L199.32,84.19 L199.81,84.71 L200.30,85.24 L200.79,85.77 L201.26,86.30 L201.72,86.82 L202.16,87.32 L202.58,87.81 L202.97,88.27 L203.33,88.70 L203.67,89.10 L203.97,89.48 L204.25,89.83 L204.50,90.17 L204.74,90.50 L204.96,90.81 L205.17,91.12 L205.38,91.44 L205.58,91.75 L205.78,92.07 L205.99,92.40 L206.20,92.75 L206.43,93.11 L206.67,93.50 L206.92,93.91 L207.18,94.33 L207.44,94.77 L207.71,95.22 L207.98,95.68 L208.26,96.15 L208.53,96.62 L208.80,97.09 L209.06,97.57 L209.32,98.05 L209.57,98.52 L209.82,98.99 L210.05,99.45 L210.27,99.90 L210.47,100.35 L210.67,100.79 L210.85,101.23 L211.02,101.67 L211.19,102.10 L211.35,102.54 L211.51,102.98 L211.66,103.41 L211.81,103.84 L211.97,104.27 L212.12,104.70 L212.27,105.14 L212.43,105.57 L212.60,106.00 L212.77,106.43 L212.94,106.86 L213.11,107.28 L213.28,107.70 L213.45,108.12 L213.63,108.54 L213.80,108.96 L213.97,109.38 L214.15,109.81 L214.32,110.23 L214.49,110.67 L214.66,111.10 L214.83,111.55 L215.00,112.00 L215.17,112.43 L215.34,112.82 L215.50,113.18 L215.67,113.52 L215.83,113.86 L216.00,114.21 L216.16,114.58 L216.33,114.98 L216.49,115.42 L216.66,115.92 L216.82,116.50 L216.99,117.15 L217.16,117.90 L217.33,118.75 L217.51,119.71 L217.68,120.77 L217.86,121.91 L218.04,123.12 L218.21,124.41 L218.39,125.75 L218.57,127.14 L218.75,128.57 L218.93,130.03 L219.11,131.52 L219.29,133.02 L219.47,134.52 L219.65,136.02 L219.83,137.50 L220.02,138.98" stroke="#ff1e00" stroke-width="1.4"/>
<path d="M222.22,158.23 L222.33,160.00 L222.43,161.79 L222.52,163.58 L222.59,165.38 L222.65,167.20 L222.71,169.04 L222.75,170.91 L222.78,172.81 L222.80,174.75 L222.81,176.74 L222.80,178.77 L222.79,180.86 L222.76,183.00 L222.72,185.22 L222.67,187.50 L222.60,189.90 L222.52,192.44 L222.42,195.10 L222.30,197.85 L222.18,200.67 L222.04,203.53 L221.90,206.41 L221.74,209.28 L221.58,212.12 L221.40,214.91 L221.23,217.61 L221.04,220.21 L220.86,222.68 L220.67,225.00 L220.47,227.18 L220.25,229.27 L220.03,231.27 L219.79,233.20 L219.55,235.06 L219.30,236.85 L219.04,238.59 L218.79,240.29 L218.53,241.95 L218.28,243.59 L218.03,245.20 L217.79,246.80 L217.55,248.40 L217.33,250.00 L217.13,251.57 L216.93,253.08 L216.75,254.53 L216.58,255.93 L216.41,257.31 L216.25,258.66 L216.08,260.00 L215.91,261.34 L215.74,262.69 L215.55,264.07 L215.36,265.47 L215.15,266.92 L214.92,268.43 L214.67,270.00 L214.40,271.62 L214.12,273.27 L213.84,274.94 L213.54,276.63 L213.23,278.35 L212.91,280.10 L212.58,281.88 L212.24,283.67 L211.90,285.50 L211.54,287.35 L211.17,289.22 L210.79,291.12 L210.40,293.05 L210.00,295.00 L209.59,296.99 L209.15,299.05 L208.70,301.14 L208.24,303.28 L207.77,305.45 L207.28,307.64 L206.79,309.84 L206.30,312.06 L205.80,314.27 L205.30,316.47 L204.80,318.65 L204.30,320.80 L203.81,322.92 L203.33,325.00 L202.85,327.06 L202.37,329.11 L201.87,331.17 L201.38,333.22 L200.88,335.26 L200.39,337.29 L199.90,339.30 L199.41,341.28 L198.92,343.24 L198.45,345.17 L197.98,347.07 L197.53,348.92 L197.09,350.73 L196.67,352.50 L196.26,354.20 L195.88,355.84 L195.52,357.42 L195.17,358.95 L194.83,360.45 L194.49,361.91 L194.17,363.36 L193.84,364.80 L193.51,366.23 L193.17,367.68 L192.82,369.14 L192.45,370.64 L192.07,372.17 L191.67,373.75 L191.23,375.40" stroke="#ff1e00" stroke-width="1.4"/>
<path d="M185.81,394.73 L185.39,396.17 L185.00,397.50 L184.64,398.73 L184.29,399.89 L183.95,400.98 L183.63,402.01 L183.32,402.98 L183.03,403.89 L182.75,404.73 L182.49,405.52 L182.25,406.24 L182.03,406.91 L181.82,407.52 L181.64,408.07 L181.48,408.56 L181.33,409.00" stroke="#ff1e00" stroke-width="1.4"/>
<path d="M163.81,377.11 L163.33,377.50 L162.84,377.86 L162.31,378.22 L161.76,378.56 L161.19,378.89 L160.61,379.19 L160.02,379.45 L159.43,379.66 L158.84,379.81 L158.27,379.90 L157.72,379.91 L157.19,379.83 L156.70,379.66 L156.24,379.39 L155.83,379.00 L155.46,378.49 L155.13,377.87 L154.82,377.13 L154.54,376.30 L154.29,375.39 L154.05,374.40 L153.83,373.34 L153.63,372.23 L153.43,371.08 L153.25,369.89 L153.06,368.68 L152.88,367.45 L152.69,366.22 L152.50,365.00 L152.31,363.77 L152.12,362.50 L151.94,361.20 L151.77,359.87 L151.60,358.50 L151.44,357.11 L151.28,355.69 L151.13,354.24 L150.99,352.76 L150.85,351.25 L150.71,349.72 L150.58,348.17 L150.45,346.60 L150.33,345.00 L150.22,343.37 L150.10,341.69 L149.99,339.97 L149.88,338.22 L149.77,336.44 L149.68,334.64 L149.58,332.81 L149.50,330.98 L149.42,329.13 L149.35,327.29 L149.29,325.45 L149.24,323.62 L149.20,321.80 L149.17,320.00 L149.15,318.21 L149.13,316.43 L149.13,314.64 L149.13,312.86 L149.15,311.07 L149.17,309.29 L149.20,307.50 L149.24,305.71 L149.28,303.93 L149.34,302.14 L149.41,300.36 L149.48,298.57 L149.57,296.79 L149.67,295.00 L149.77,293.30 L149.88,291.73 L150.00,290.27 L150.13,288.88 L150.27,287.51 L150.42,286.12 L150.57,284.69 L150.74,283.16 L150.92,281.51 L151.11,279.69 L151.31,277.67 L151.53,275.41 L151.76,272.86 L152.00,270.00 L152.26,266.79 L152.53,263.26 L152.83,259.44 L153.13,255.38 L153.45,251.11 L153.78,246.68 L154.12,242.12 L154.47,237.48 L154.83,232.79 L155.19,228.09 L155.55,223.42 L155.92,218.83 L156.29,214.34 L156.67,210.00 L157.05,205.65 L157.46,201.14 L157.88,196.52 L158.32,191.82 L158.77,187.09 L159.22,182.39 L159.67,177.75 L160.12,173.22 L160.55,168.86 L160.97,164.69 L161.37,160.78 L161.74,157.16 L162.09,153.89 L162.40,151.00 L162.68,148.54 L162.92,146.47 L163.15,144.75 L163.34,143.32 L163.52,142.15 L163.69,141.19 L163.84,140.38 L163.99,139.67 L164.12,139.03 L164.26,138.39 L164.40,137.72 L164.55,136.96 L164.70,136.07 L164.87,135.00 L165.04,133.80 L165.21,132.55 L165.38,131.26 L165.55,129.96 L165.72,128.64 L165.89,127.32 L166.06,126.01 L166.23,124.72 L166.40,123.46 L166.57,122.24 L166.74,121.08 L166.92,119.98 L167.09,118.95 L167.27,118.00 L167.44,117.14 L167.62,116.35 L167.79,115.62 L167.97,114.95 L168.14,114.34 L168.32,113.76 L168.50,113.22 L168.67,112.71 L168.86,112.21 L169.04,111.73 L169.22,111.26 L169.41,110.78 L169.60,110.30 L169.80,109.80 L170.00,109.30 L170.20,108.80 L170.39,108.32 L170.59,107.85 L170.80,107.39 L171.00,106.94 L171.21,106.50 L171.42,106.07 L171.64,105.65 L171.86,105.24 L172.08,104.84 L172.31,104.45 L172.55,104.07 L172.80,103.70 L173.05,103.34 L173.30,102.98 L173.55,102.63 L173.81,102.29 L174.07,101.96 L174.34,101.64 L174.61,101.33 L174.89,101.03 L175.18,100.74 L175.48,100.47 L175.79,100.21 L176.11,99.96 L176.45,99.72 L176.80,99.50 L177.17,99.29 L177.56,99.07 L177.96,98.87 L178.38,98.67 L178.82,98.48 L179.26,98.31 L179.71,98.15 L180.16,98.01 L180.62,97.89 L181.08,97.79 L181.53,97.72 L181.99,97.68 L182.43,97.68 L182.87,97.70 L183.30,97.76 L183.73,97.85 L184.16,97.97 L184.59,98.12 L185.01,98.29 L185.44,98.49 L185.87,98.71 L186.30,98.95 L186.73,99.21 L187.15,99.48 L187.58,99.77 L188.01,100.07 L188.44,100.38 L188.87,100.70 L189.30,101.03 L189.74,101.39 L190.18,101.77 L190.62,102.17 L191.07,102.59 L191.52,103.02 L191.96,103.46 L192.40,103.92 L192.83,104.38 L193.26,104.84 L193.68,105.31 L194.09,105.77 L194.48,106.24 L194.87,106.70 L195.24,107.15 L195.60,107.60 L195.95,108.04 L196.29,108.48 L196.62,108.92 L196.94,109.36 L197.26,109.82 L197.58,110.28 L197.89,110.77 L198.19,111.26 L198.49,111.78 L198.80,112.33 L199.10,112.90 L199.40,113.50 L199.70,114.13 L200.00,114.80" stroke="#ff1e00" stroke-width="1.4"/>
<path d="M206.05,132.30 L206.27,133.16 L206.47,134.06 L206.67,135.00 L206.85,135.97 L207.03,136.95 L207.20,137.95 L207.35,138.97 L207.51,140.02 L207.65,141.09 L207.79,142.19 L207.93,143.32 L208.06,144.49 L208.18,145.70 L208.31,146.95 L208.43,148.25 L208.55,149.60 L208.67,151.00 L208.79,152.47 L208.90,154.00 L209.02,155.60 L209.14,157.24 L209.25,158.94 L209.35,160.67 L209.46,162.44 L209.56,164.22 L209.65,166.03 L209.74,167.84 L209.81,169.65 L209.89,171.45 L209.95,173.24 L210.00,175.00 L210.05,176.75 L210.08,178.52 L210.12,180.29 L210.15,182.07 L210.17,183.85 L210.18,185.64 L210.19,187.44 L210.19,189.23 L210.18,191.03 L210.16,192.83 L210.13,194.62 L210.10,196.42 L210.05,198.21 L210.00,200.00 L209.94,201.79 L209.86,203.57 L209.78,205.36 L209.69,207.14 L209.60,208.93 L209.49,210.71 L209.38,212.50 L209.25,214.29 L209.12,216.07 L208.98,217.86 L208.83,219.64 L208.67,221.43 L208.51,223.21 L208.33,225.00 L208.15,226.80 L207.95,228.61 L207.75,230.43 L207.53,232.26 L207.31,234.09 L207.07,235.92 L206.83,237.75 L206.59,239.57 L206.33,241.37 L206.07,243.15 L205.81,244.91 L205.54,246.64 L205.27,248.34 L205.00,250.00 L204.72,251.62 L204.45,253.21 L204.16,254.76 L203.87,256.28 L203.58,257.77 L203.28,259.25 L202.98,260.72 L202.67,262.17 L202.35,263.63 L202.03,265.08 L201.70,266.54 L201.36,268.01 L201.02,269.49 L200.67,271.00 L200.31,272.52 L199.94,274.04 L199.56,275.56 L199.17,277.08 L198.78,278.60 L198.38,280.13 L197.98,281.66 L197.57,283.19 L197.15,284.73 L196.73,286.27 L196.30,287.82 L195.87,289.37 L195.44,290.93 L195.00,292.50 L194.56,294.07 L194.11,295.64 L193.67,297.21 L193.22,298.78 L192.76,300.36 L192.30,301.94 L191.83,303.53 L191.36,305.13 L190.88,306.74 L190.39,308.36 L189.89,310.00 L189.38,311.65 L188.86,313.31 L188.33,315.00 L187.79,316.72 L187.22,318.49 L186.63,320.30 L186.03,322.14 L185.41,324.00 L184.79,325.87 L184.17,327.73 L183.54,329.59 L182.92,331.43 L182.31,333.24 L181.71,335.01 L181.12,336.73 L180.55,338.40 L180.00,340.00 L179.47,341.55 L178.94,343.08 L178.42,344.58 L177.90,346.06 L177.39,347.51 L176.90,348.92 L176.41,350.30 L175.93,351.64 L175.46,352.94 L175.01,354.19 L174.57,355.41 L174.14,356.57 L173.73,357.69 L173.33,358.75 L172.96,359.75" stroke="#ff1e00" stroke-width="1.4"/>
<path d="M110.00,409.00 L110.21,407.42 L110.46,405.56 L110.78,403.19 L111.20,400.11 L111.77,396.12 L112.50,391.00 L113.45,384.62 L114.60,377.11 L115.89,368.69 L117.26,359.56 L118.65,349.92 L120.00,340.00 L121.35,329.21 L122.77,317.26 L124.21,304.81 L125.62,292.52 L126.96,281.03 L128.20,271.00 L129.33,262.61 L130.39,255.37 L131.38,248.94 L132.31,242.96 L133.18,237.10 L134.00,231.00 L134.74,224.87 L135.40,219.04 L136.00,213.31 L136.58,207.52 L137.14,201.47 L137.73,195.00 L138.37,187.73 L139.04,179.74 L139.71,171.50 L140.34,163.48 L140.89,156.16 L141.33,150.00 L141.64,145.19 L141.84,141.37 L141.96,138.25 L142.04,135.52 L142.11,132.87 L142.20,130.00 L142.31,127.09 L142.40,124.41 L142.49,121.81 L142.56,119.15 L142.62,116.26 L142.67,113.00 L142.68,109.09 L142.64,104.61 L142.60,99.91 L142.57,95.34 L142.58,91.25 L142.67,88.00 L142.81,85.73 L142.99,84.17 L143.21,83.11 L143.48,82.28 L143.81,81.46 L144.20,80.40 L144.66,79.12 L145.18,77.81 L145.75,76.51 L146.37,75.23 L147.04,74.02 L147.73,72.90 L148.41,71.94 L149.07,71.14 L149.76,70.39 L150.56,69.62 L151.53,68.72 L152.73,67.60 L154.20,66.21 L155.90,64.61 L157.77,62.89 L159.74,61.12 L161.77,59.40 L163.80,57.80 L165.91,56.28 L168.17,54.75 L170.49,53.27 L172.76,51.87 L174.90,50.60 L176.80,49.50 L178.46,48.60 L179.96,47.86 L181.33,47.25 L182.58,46.73 L183.75,46.26 L184.87,45.80 L185.84,45.39 L186.61,45.07 L187.31,44.80 L188.04,44.54 L188.90,44.25 L190.00,43.90 L191.41,43.47 L193.05,43.00 L194.82,42.49 L196.63,41.98 L198.39,41.48 L200.00,41.00 L201.48,40.53 L202.91,40.06 L204.29,39.59 L205.60,39.15 L206.84,38.75 L208.00,38.40 L209.04,38.10 L209.98,37.84 L210.83,37.61 L211.65,37.43 L212.48,37.29 L213.33,37.20 L214.21,37.16 L215.06,37.18 L215.92,37.24 L216.79,37.34 L217.70,37.46 L218.67,37.60 L219.68,37.76 L220.72,37.94 L221.79,38.15 L222.91,38.38 L224.09,38.63 L225.33,38.90 L226.57,39.18 L227.78,39.48 L229.04,39.80 L230.44,40.14 L232.07,40.51 L234.00,40.90 L236.31,41.29 L238.96,41.68 L241.83,42.09 L244.81,42.55 L247.80,43.10 L250.67,43.75 L253.44,44.50 L256.22,45.32 L259.00,46.23 L261.78,47.22 L264.56,48.31 L267.33,49.50 L270.15,50.82 L273.01,52.25 L275.88,53.78 L278.69,55.39 L281.42,57.05 L284.00,58.75 L286.42,60.45 L288.69,62.17 L290.88,63.94 L293.01,65.81 L295.15,67.81 L297.33,70.00 L299.58,72.36 L301.86,74.86 L304.15,77.50 L306.40,80.28 L308.58,83.19 L310.67,86.25 L312.67,89.55 L314.60,93.10 L316.48,96.80 L318.28,100.51 L320.01,104.12 L321.67,107.50 L323.21,110.58 L324.64,113.43 L326.00,116.17 L327.32,118.94 L328.64,121.84 L330.00,125.00 L331.41,128.49 L332.84,132.22 L334.27,136.09 L335.68,140.00 L337.04,143.84 L338.33,147.50 L339.54,150.89 L340.68,154.07 L341.77,157.19 L342.84,160.37 L343.91,163.76 L345.00,167.50 L346.15,171.74 L347.35,176.39 L348.54,181.25 L349.69,186.11 L350.75,190.76 L351.67,195.00 L352.42,198.77 L353.06,202.22 L353.59,205.47 L354.07,208.61 L354.53,211.75 L355.00,215.00 L355.47,218.33 L355.91,221.67 L356.32,225.00 L356.72,228.33 L357.11,231.67 L357.50,235.00 L357.89,238.33 L358.27,241.67 L358.64,245.00 L358.99,248.33 L359.34,251.67 L359.67,255.00 L359.98,258.38 L360.29,261.81 L360.58,265.25 L360.86,268.63 L361.11,271.90 L361.33,275.00 L361.52,277.92 L361.67,280.70 L361.80,283.38 L361.92,285.96 L362.04,288.50 L362.17,291.00 L362.32,293.21 L362.48,295.04 L362.64,296.81 L362.78,298.85 L362.91,301.47 L363.00,305.00 L363.06,309.62 L363.10,315.11 L363.11,321.19 L363.10,327.56 L363.07,333.92 L363.00,340.00 L362.89,346.06 L362.73,352.41 L362.54,358.75 L362.35,364.81 L362.16,370.32 L362.00,375.00 L361.87,378.75 L361.75,381.78 L361.65,384.25 L361.54,386.33 L361.44,388.19 L361.33,390.00 L361.23,391.67 L361.13,393.06 L361.03,394.23 L360.92,395.24 L360.80,396.14 L360.67,397.00 L360.49,397.80 L360.28,398.50 L360.06,399.09 L359.84,399.58 L359.66,399.98 L359.53,400.30" stroke="#ff8000" stroke-width="1.35" stroke-dasharray="10.5 5" stroke-dashoffset="-5"/>
<path d="M358.67,400.50 L318.67,400.50 L313.00,405.00 L310.00,408.50" stroke="#ff8000" stroke-width="1.35" stroke-dasharray="10.5 5" stroke-dashoffset="0"/>
<path d="M132.50,409.00 L132.66,407.42 L132.85,405.56 L133.09,403.19 L133.39,400.11 L133.74,396.12 L134.17,391.00 L134.65,384.62 L135.18,377.11 L135.77,368.69 L136.43,359.56 L137.17,349.92 L138.00,340.00 L138.97,329.45 L140.09,318.04 L141.28,306.12 L142.49,294.07 L143.64,282.25 L144.67,271.00 L145.57,260.27 L146.41,249.76 L147.19,239.47 L147.93,229.41 L148.64,219.58 L149.33,210.00 L150.02,200.53 L150.69,191.13 L151.33,181.97 L151.94,173.20 L152.50,164.99 L153.00,157.50 L153.44,150.73 L153.84,144.54 L154.18,138.92 L154.49,133.81 L154.76,129.18 L155.00,125.00 L155.19,121.43 L155.31,118.54 L155.40,116.12 L155.48,114.00 L155.58,111.95 L155.73,109.80 L155.91,107.60 L156.09,105.53 L156.30,103.55 L156.54,101.61 L156.86,99.67 L157.27,97.70 L157.78,95.63 L158.40,93.50 L159.08,91.37 L159.80,89.31 L160.54,87.40 L161.27,85.70 L161.97,84.25 L162.68,82.99 L163.41,81.88 L164.16,80.86 L164.95,79.89 L165.80,78.90 L166.70,77.91 L167.65,76.97 L168.64,76.06 L169.67,75.20 L170.72,74.38 L171.80,73.60 L172.91,72.86 L174.04,72.16 L175.21,71.51 L176.40,70.89 L177.62,70.32 L178.87,69.80 L180.17,69.32 L181.54,68.90 L182.93,68.51 L184.31,68.17 L185.64,67.87 L186.87,67.60 L187.96,67.38 L188.94,67.20 L189.86,67.06 L190.79,66.96 L191.77,66.87 L192.87,66.80 L194.12,66.74 L195.49,66.70 L196.92,66.68 L198.34,66.69 L199.70,66.73 L200.93,66.80 L201.99,66.90 L202.89,67.03 L203.74,67.18 L204.60,67.37 L205.55,67.61 L206.67,67.90 L207.94,68.23 L209.31,68.58 L210.76,68.98 L212.32,69.43 L213.97,69.97 L215.73,70.60 L217.64,71.32 L219.71,72.13 L221.88,73.01 L224.09,73.96 L226.31,74.99 L228.47,76.10 L230.58,77.29 L232.69,78.56 L234.80,79.91 L236.91,81.32 L239.02,82.79 L241.13,84.30 L243.24,85.82 L245.35,87.36 L247.45,88.94 L249.57,90.63 L251.70,92.47 L253.87,94.50 L256.11,96.77 L258.43,99.25 L260.77,101.87 L263.07,104.58 L265.28,107.31 L267.33,110.00 L269.22,112.66 L270.99,115.36 L272.65,118.08 L274.25,120.81 L275.80,123.53 L277.33,126.25 L278.87,129.05 L280.39,131.95 L281.86,134.86 L283.26,137.66 L284.54,140.24 L285.67,142.50 L286.56,144.21 L287.24,145.43 L287.80,146.42 L288.35,147.49 L288.99,148.92 L289.83,151.00 L290.90,153.76 L292.12,156.98 L293.43,160.56 L294.77,164.41 L296.09,168.42 L297.33,172.50 L298.52,176.74 L299.71,181.22 L300.88,185.88 L301.99,190.61 L303.04,195.35 L304.00,200.00 L304.86,204.58 L305.64,209.17 L306.34,213.75 L306.99,218.33 L307.60,222.92 L308.17,227.50 L308.69,232.17 L309.17,236.94 L309.59,241.72 L309.98,246.39 L310.34,250.85 L310.67,255.00 L310.96,258.71 L311.22,262.04 L311.45,265.16 L311.65,268.24 L311.83,271.46 L312.00,275.00 L312.16,278.88 L312.31,282.96 L312.44,287.19 L312.54,291.48 L312.62,295.78 L312.67,300.00 L312.67,304.28 L312.63,308.70 L312.56,313.12 L312.48,317.41 L312.40,321.41 L312.33,325.00 L312.29,327.96 L312.26,330.37 L312.23,332.50 L312.19,334.63 L312.11,337.04 L312.00,340.00 L311.84,343.59 L311.63,347.59 L311.40,351.88 L311.15,356.30 L310.90,360.72 L310.67,365.00 L310.43,369.24 L310.19,373.56 L309.94,377.88 L309.70,382.11 L309.50,386.18 L309.33,390.00 L309.22,393.73 L309.14,397.48 L309.08,401.06 L309.05,404.30 L309.02,407.00 L309.00,409.00" stroke="#ff8000" stroke-width="1.35" stroke-dasharray="10.5 5" stroke-dashoffset="-7"/>
<path d="M153.67,409.00 L153.72,407.08 L153.80,404.44 L153.89,401.31 L153.98,397.89 L154.08,394.38 L154.17,391.00 L154.25,387.78 L154.33,384.56 L154.41,381.25 L154.49,377.78 L154.57,374.06 L154.67,370.00 L154.76,365.41 L154.86,360.30 L154.97,354.94 L155.08,349.59 L155.20,344.53 L155.33,340.00 L155.47,336.35 L155.59,333.43 L155.73,330.78 L155.89,327.96 L156.09,324.52 L156.33,320.00 L156.63,314.39 L156.98,308.06 L157.35,301.09 L157.77,293.61 L158.20,285.71 L158.67,277.50 L159.14,268.92 L159.63,259.87 L160.15,250.41 L160.70,240.57 L161.32,230.42 L162.00,220.00 L162.81,208.61 L163.75,196.07 L164.74,183.22 L165.71,170.87 L166.60,159.86 L167.33,151.00 L167.88,144.62 L168.30,140.11 L168.62,136.94 L168.91,134.56 L169.20,132.42 L169.53,130.00 L169.92,127.40 L170.31,125.08 L170.71,123.01 L171.10,121.16 L171.46,119.50 L171.80,118.00 L172.09,116.75 L172.33,115.80 L172.55,115.03 L172.78,114.35 L173.03,113.64 L173.33,112.80 L173.66,111.84 L173.99,110.86 L174.35,109.84 L174.75,108.81 L175.23,107.76 L175.80,106.70 L176.48,105.59 L177.26,104.43 L178.11,103.25 L179.01,102.09 L179.94,101.00 L180.87,100.00 L181.81,99.09 L182.80,98.23 L183.81,97.43 L184.83,96.70 L185.86,96.06 L186.87,95.50 L187.87,95.04 L188.86,94.67 L189.86,94.39 L190.86,94.17 L191.86,94.01 L192.87,93.90 L193.89,93.85 L194.95,93.89 L196.00,93.98 L197.03,94.11 L198.02,94.26 L198.93,94.40 L199.74,94.51 L200.44,94.60 L201.10,94.70 L201.76,94.86 L202.49,95.11 L203.33,95.50 L204.31,96.05 L205.36,96.75 L206.48,97.54 L207.64,98.37 L208.82,99.21 L210.00,100.00 L211.15,100.71 L212.30,101.37 L213.46,102.03 L214.67,102.74 L215.95,103.55 L217.33,104.50 L218.85,105.56 L220.47,106.69 L222.17,107.92 L223.90,109.28 L225.64,110.79 L227.33,112.50 L229.02,114.46 L230.73,116.66 L232.44,119.02 L234.12,121.45 L235.76,123.89 L237.33,126.25 L238.84,128.57 L240.31,130.94 L241.73,133.30 L243.10,135.62 L244.41,137.87 L245.67,140.00 L246.80,141.90 L247.79,143.57 L248.73,145.17 L249.69,146.84 L250.76,148.74 L252.00,151.00 L253.48,153.66 L255.15,156.61 L256.92,159.78 L258.70,163.11 L260.43,166.54 L262.00,170.00 L263.43,173.52 L264.79,177.15 L266.08,180.88 L267.32,184.69 L268.51,188.56 L269.67,192.50 L270.80,196.49 L271.90,200.56 L272.96,204.69 L273.95,208.89 L274.86,213.16 L275.67,217.50 L276.36,221.96 L276.94,226.54 L277.44,231.19 L277.88,235.85 L278.28,240.47 L278.67,245.00 L279.03,249.39 L279.36,253.67 L279.65,257.91 L279.90,262.17 L280.13,266.51 L280.33,271.00 L280.52,275.71 L280.68,280.59 L280.81,285.56 L280.91,290.52 L280.98,295.36 L281.00,300.00 L280.97,304.40 L280.90,308.63 L280.79,312.75 L280.65,316.81 L280.50,320.88 L280.33,325.00 L280.16,329.22 L279.98,333.52 L279.78,337.81 L279.56,342.04 L279.30,346.12 L279.00,350.00 L278.65,353.62 L278.25,357.04 L277.82,360.31 L277.38,363.52 L276.93,366.72 L276.50,370.00 L276.07,373.34 L275.64,376.70 L275.20,380.06 L274.77,383.41 L274.37,386.72 L274.00,390.00 L273.65,393.44 L273.32,397.11 L273.01,400.75 L272.73,404.11 L272.51,406.94 L272.33,409.00" stroke="#ff8000" stroke-width="1.35" stroke-dasharray="10.5 5" stroke-dashoffset="-7"/>
</g>
</g>
<g filter="url(#gs)">
<text transform="translate(211.0 170.0) scale(1.6 1) rotate(-83.7)" fill="#ff1e00" font-family="Liberation Sans, sans-serif" font-size="8.0" font-weight="bold" text-anchor="middle" dy="0.36em" stroke="#ff1e00" stroke-width="0.3" stroke-linejoin="round">99%</text>
<text transform="translate(219.5 221.0) scale(1.6 1) rotate(-83.7)" fill="#ff1e00" font-family="Liberation Sans, sans-serif" font-size="8.0" font-weight="bold" text-anchor="middle" dy="0.36em" stroke="#ff1e00" stroke-width="0.3" stroke-linejoin="round">90%</text>
<text transform="translate(305.0 123.5) scale(1.6 1) rotate(72.3)" fill="#ff1e00" font-family="Liberation Sans, sans-serif" font-size="8.0" font-weight="bold" text-anchor="middle" dy="0.36em" stroke="#ff1e00" stroke-width="0.3" stroke-linejoin="round">68%</text>
<text transform="translate(331.8 149.0) scale(1.6 1) rotate(87.5)" fill="#ff1e00" font-family="Liberation Sans, sans-serif" font-size="8.0" font-weight="bold" text-anchor="middle" dy="0.36em" stroke="#ff1e00" stroke-width="0.3" stroke-linejoin="round">90%</text>
<text transform="translate(361.0 149.0) scale(1.6 1) rotate(88.1)" fill="#ff1e00" font-family="Liberation Sans, sans-serif" font-size="8.0" font-weight="bold" text-anchor="middle" dy="0.36em" stroke="#ff1e00" stroke-width="0.3" stroke-linejoin="round">99%</text>
<text transform="translate(253.5 369.5) scale(1.6 1) rotate(-53.3)" fill="#ff1e00" font-family="Liberation Sans, sans-serif" font-size="8.0" font-weight="bold" text-anchor="middle" dy="0.36em" stroke="#ff1e00" stroke-width="0.3" stroke-linejoin="round">68%</text>
<text transform="translate(283.5 385.0) scale(1.6 1) rotate(-75.1)" fill="#ff1e00" font-family="Liberation Sans, sans-serif" font-size="8.0" font-weight="bold" text-anchor="middle" dy="0.36em" stroke="#ff1e00" stroke-width="0.3" stroke-linejoin="round">90%</text>
<text transform="translate(322.0 384.0) scale(1.6 1) rotate(-80.5)" fill="#ff1e00" font-family="Liberation Sans, sans-serif" font-size="8.0" font-weight="bold" text-anchor="middle" dy="0.36em" stroke="#ff1e00" stroke-width="0.3" stroke-linejoin="round">99%</text>
<text transform="translate(361.0 61.8) scale(1.6 1) rotate(-40.4)" fill="#1e6eff" font-family="Liberation Sans, sans-serif" font-size="8.0" font-weight="bold" text-anchor="middle" dy="0.36em" stroke="#1e6eff" stroke-width="0.3" stroke-linejoin="round">99%</text>
<text transform="translate(305.5 125.5) scale(1.6 1) rotate(-55.2)" fill="#1e6eff" font-family="Liberation Sans, sans-serif" font-size="8.0" font-weight="bold" text-anchor="middle" dy="0.36em" stroke="#1e6eff" stroke-width="0.3" stroke-linejoin="round">90%</text>
<text transform="translate(274.3 216.4) scale(1.6 1) rotate(-45.7)" fill="#1e6eff" font-family="Liberation Sans, sans-serif" font-size="8.0" font-weight="bold" text-anchor="middle" dy="0.36em" stroke="#1e6eff" stroke-width="0.3" stroke-linejoin="round">68%</text>
<text transform="translate(257.5 243.5) scale(1.6 1) rotate(-45.7)" fill="#1e6eff" font-family="Liberation Sans, sans-serif" font-size="8.0" font-weight="bold" text-anchor="middle" dy="0.36em" stroke="#1e6eff" stroke-width="0.3" stroke-linejoin="round">90%</text>
<text transform="translate(225.5 287.0) scale(1.6 1) rotate(-46.1)" fill="#1e6eff" font-family="Liberation Sans, sans-serif" font-size="8.0" font-weight="bold" text-anchor="middle" dy="0.36em" stroke="#1e6eff" stroke-width="0.3" stroke-linejoin="round">99%</text>
</g>
<path d="M164.00,37.40 V409.20" stroke="#000" stroke-width="1.6"/>
<path d="M615.50,37.40 V409.20" stroke="#000" stroke-width="1.5"/>
<path d="M163.20,38.00 H616.30" stroke="#000" stroke-width="1.2"/>
<path d="M163.20,408.90 H616.30" stroke="#000" stroke-width="1.75"/>
<path d="M194.10,408.50 v-3.30 M194.10,38.00 v3.80 M224.20,408.50 v-3.30 M224.20,38.00 v3.80 M254.30,408.50 v-3.30 M254.30,38.00 v3.80 M284.40,408.50 v-3.30 M284.40,38.00 v3.80 M314.50,408.50 v-7.10 M314.50,38.00 v7.60 M344.60,408.50 v-3.30 M344.60,38.00 v3.80 M374.70,408.50 v-3.30 M374.70,38.00 v3.80 M404.80,408.50 v-3.30 M404.80,38.00 v3.80 M434.90,408.50 v-3.30 M434.90,38.00 v3.80 M465.00,408.50 v-7.10 M465.00,38.00 v7.60 M495.10,408.50 v-3.30 M495.10,38.00 v3.80 M525.20,408.50 v-3.30 M525.20,38.00 v3.80 M555.30,408.50 v-3.30 M555.30,38.00 v3.80 M585.40,408.50 v-3.30 M585.40,38.00 v3.80" stroke="#000" stroke-width="1.6" fill="none"/>
<path d="M164.00,396.15 h4.60 M615.50,396.15 h-4.60 M164.00,383.80 h4.60 M615.50,383.80 h-4.60 M164.00,371.45 h4.60 M615.50,371.45 h-4.60 M164.00,359.10 h9.00 M615.50,359.10 h-9.00 M164.00,346.75 h4.60 M615.50,346.75 h-4.60 M164.00,334.40 h4.60 M615.50,334.40 h-4.60 M164.00,322.05 h4.60 M615.50,322.05 h-4.60 M164.00,309.70 h9.00 M615.50,309.70 h-9.00 M164.00,297.35 h4.60 M615.50,297.35 h-4.60 M164.00,285.00 h4.60 M615.50,285.00 h-4.60 M164.00,272.65 h4.60 M615.50,272.65 h-4.60 M164.00,260.30 h9.00 M615.50,260.30 h-9.00 M164.00,247.95 h4.60 M615.50,247.95 h-4.60 M164.00,235.60 h4.60 M615.50,235.60 h-4.60 M164.00,223.25 h4.60 M615.50,223.25 h-4.60 M164.00,210.90 h9.00 M615.50,210.90 h-9.00 M164.00,198.55 h4.60 M615.50,198.55 h-4.60 M164.00,186.20 h4.60 M615.50,186.20 h-4.60 M164.00,173.85 h4.60 M615.50,173.85 h-4.60 M164.00,161.50 h9.00 M615.50,161.50 h-9.00 M164.00,149.15 h4.60 M615.50,149.15 h-4.60 M164.00,136.80 h4.60 M615.50,136.80 h-4.60 M164.00,124.45 h4.60 M615.50,124.45 h-4.60 M164.00,112.10 h9.00 M615.50,112.10 h-9.00 M164.00,99.75 h4.60 M615.50,99.75 h-4.60 M164.00,87.40 h4.60 M615.50,87.40 h-4.60 M164.00,75.05 h4.60 M615.50,75.05 h-4.60 M164.00,62.70 h9.00 M615.50,62.70 h-9.00 M164.00,50.35 h4.60 M615.50,50.35 h-4.60" stroke="#000" stroke-width="1.2" fill="none"/>
<g filter="url(#th)"><text transform="translate(163.30 438.00)  scale(1.51 1)" fill="#000" font-family="Liberation Sans, sans-serif" font-size="20.5" text-anchor="middle" >0.0</text></g>
<g filter="url(#th)"><text transform="translate(313.90 438.00)  scale(1.51 1)" fill="#000" font-family="Liberation Sans, sans-serif" font-size="20.5" text-anchor="middle" >0.5</text></g>
<clipPath id="c2"><path clip-rule="evenodd" d="M-200,-60H400V40H-200Z M-13.04,-1.88H-9.14V0.35H-13.04Z M-7.23,-1.88H-3.50V0.35H-7.23Z"/></clipPath>
<g filter="url(#th)"><text transform="translate(464.20 438.00)  scale(1.51 1)" fill="#000" font-family="Liberation Sans, sans-serif" font-size="20.5" text-anchor="middle"  clip-path="url(#c2)">1.0</text></g>
<clipPath id="c3"><path clip-rule="evenodd" d="M-200,-60H400V40H-200Z M-13.04,-1.88H-9.14V0.35H-13.04Z M-7.23,-1.88H-3.50V0.35H-7.23Z"/></clipPath>
<g filter="url(#th)"><text transform="translate(615.00 438.00)  scale(1.51 1)" fill="#000" font-family="Liberation Sans, sans-serif" font-size="20.5" text-anchor="middle"  clip-path="url(#c3)">1.5</text></g>
<g filter="url(#th)"><text transform="translate(154.30 409.60)  scale(1.51 1)" fill="#000" font-family="Liberation Sans, sans-serif" font-size="20.5" text-anchor="end" >0.0</text></g>
<g filter="url(#th)"><text transform="translate(154.30 366.80)  scale(1.51 1)" fill="#000" font-family="Liberation Sans, sans-serif" font-size="20.5" text-anchor="end" >0.2</text></g>
<g filter="url(#th)"><text transform="translate(154.30 317.40)  scale(1.51 1)" fill="#000" font-family="Liberation Sans, sans-serif" font-size="20.5" text-anchor="end" >0.4</text></g>
<g filter="url(#th)"><text transform="translate(154.30 268.00)  scale(1.51 1)" fill="#000" font-family="Liberation Sans, sans-serif" font-size="20.5" text-anchor="end" >0.6</text></g>
<g filter="url(#th)"><text transform="translate(154.30 218.60)  scale(1.51 1)" fill="#000" font-family="Liberation Sans, sans-serif" font-size="20.5" text-anchor="end" >0.8</text></g>
<clipPath id="c9"><path clip-rule="evenodd" d="M-200,-60H400V40H-200Z M-27.29,-1.88H-23.39V0.35H-27.29Z M-21.48,-1.88H-17.75V0.35H-21.48Z"/></clipPath>
<g filter="url(#th)"><text transform="translate(154.30 169.20)  scale(1.51 1)" fill="#000" font-family="Liberation Sans, sans-serif" font-size="20.5" text-anchor="end"  clip-path="url(#c9)">1.0</text></g>
<clipPath id="c10"><path clip-rule="evenodd" d="M-200,-60H400V40H-200Z M-27.29,-1.88H-23.39V0.35H-27.29Z M-21.48,-1.88H-17.75V0.35H-21.48Z"/></clipPath>
<g filter="url(#th)"><text transform="translate(154.30 119.80)  scale(1.51 1)" fill="#000" font-family="Liberation Sans, sans-serif" font-size="20.5" text-anchor="end"  clip-path="url(#c10)">1.2</text></g>
<clipPath id="c11"><path clip-rule="evenodd" d="M-200,-60H400V40H-200Z M-27.29,-1.88H-23.39V0.35H-27.29Z M-21.48,-1.88H-17.75V0.35H-21.48Z"/></clipPath>
<g filter="url(#th)"><text transform="translate(154.30 70.40)  scale(1.51 1)" fill="#000" font-family="Liberation Sans, sans-serif" font-size="20.5" text-anchor="end"  clip-path="url(#c11)">1.4</text></g>
<clipPath id="c12"><path clip-rule="evenodd" d="M-200,-60H400V40H-200Z M0.88,-1.55H4.00V0.35H0.88Z M5.52,-1.55H8.52V0.35H5.52Z"/></clipPath>
<g filter="url(#gs)"><text transform="translate(392.20 87.60)  scale(1.265 1)" fill="#1e6eff" font-family="Liberation Sans, sans-serif" font-size="16.1" text-anchor="start" word-spacing="4" clip-path="url(#c12)">156 SNIa</text></g>
<clipPath id="c13"><path clip-rule="evenodd" d="M-200,-60H400V40H-200Z M0.86,-1.54H3.95V0.35H0.86Z M5.45,-1.54H8.42V0.35H5.45Z"/></clipPath>
<g filter="url(#gs)"><text transform="translate(496.80 124.60)  scale(1.25 1)" fill="#ff8000" font-family="Liberation Sans, sans-serif" font-size="15.9" text-anchor="start" word-spacing="4.5" clip-path="url(#c13)">19 GRB</text></g>
<g filter="url(#gs)"><text transform="translate(374.60 211.60)  scale(1.25 1)" fill="#ff1e00" font-family="Liberation Sans, sans-serif" font-size="16.2" text-anchor="start" word-spacing="4.8">29 GRB</text></g>
<g filter="url(#gs)"><text transform="translate(344.60 295.80) scale(1.6 1) rotate(49.8) scale(1 1)" fill="#1ef082" font-family="Liberation Sans, sans-serif" font-size="9.7" text-anchor="middle" stroke="#1ef082" stroke-width="0.08">WMAP</text></g>
<g filter="url(#gs)"><text transform="translate(409.80 358.20) scale(1.6 1) rotate(51.3) scale(1 1)" fill="#000" font-family="Liberation Sans, sans-serif" font-size="9.2" text-anchor="middle" >Closed</text></g>
<g filter="url(#gs)"><text transform="translate(384.60 368.20) scale(1.6 1) rotate(51.3) scale(1 1)" fill="#000" font-family="Liberation Sans, sans-serif" font-size="9.2" text-anchor="middle" >Open</text></g>
<g filter="url(#gs)"><text transform="translate(383.00 463.40)  scale(0.95 1)" fill="#000" font-family="Liberation Sans, sans-serif" font-size="20.5" text-anchor="middle" >Ω</text></g>
<g filter="url(#gs)"><text transform="translate(397.80 464.60)  scale(1.55 1)" fill="#000" font-family="Liberation Sans, sans-serif" font-size="9" text-anchor="middle" stroke="#000" stroke-width="0.3">m</text></g>
<g filter="url(#th2)"><text transform="translate(88.90 226.70) scale(1.88 1) rotate(-90) scale(1 1)" fill="#000" font-family="Liberation Sans, sans-serif" font-size="15" text-anchor="middle" >Ω</text></g>
<g filter="url(#gs)"><text transform="translate(92.20 217.30) scale(1.6 1) rotate(-90) scale(1 1)" fill="#000" font-family="Liberation Sans, sans-serif" font-size="7.5" text-anchor="middle" stroke="#000" stroke-width="0.35">Λ</text></g>
</svg>
</body></html>
